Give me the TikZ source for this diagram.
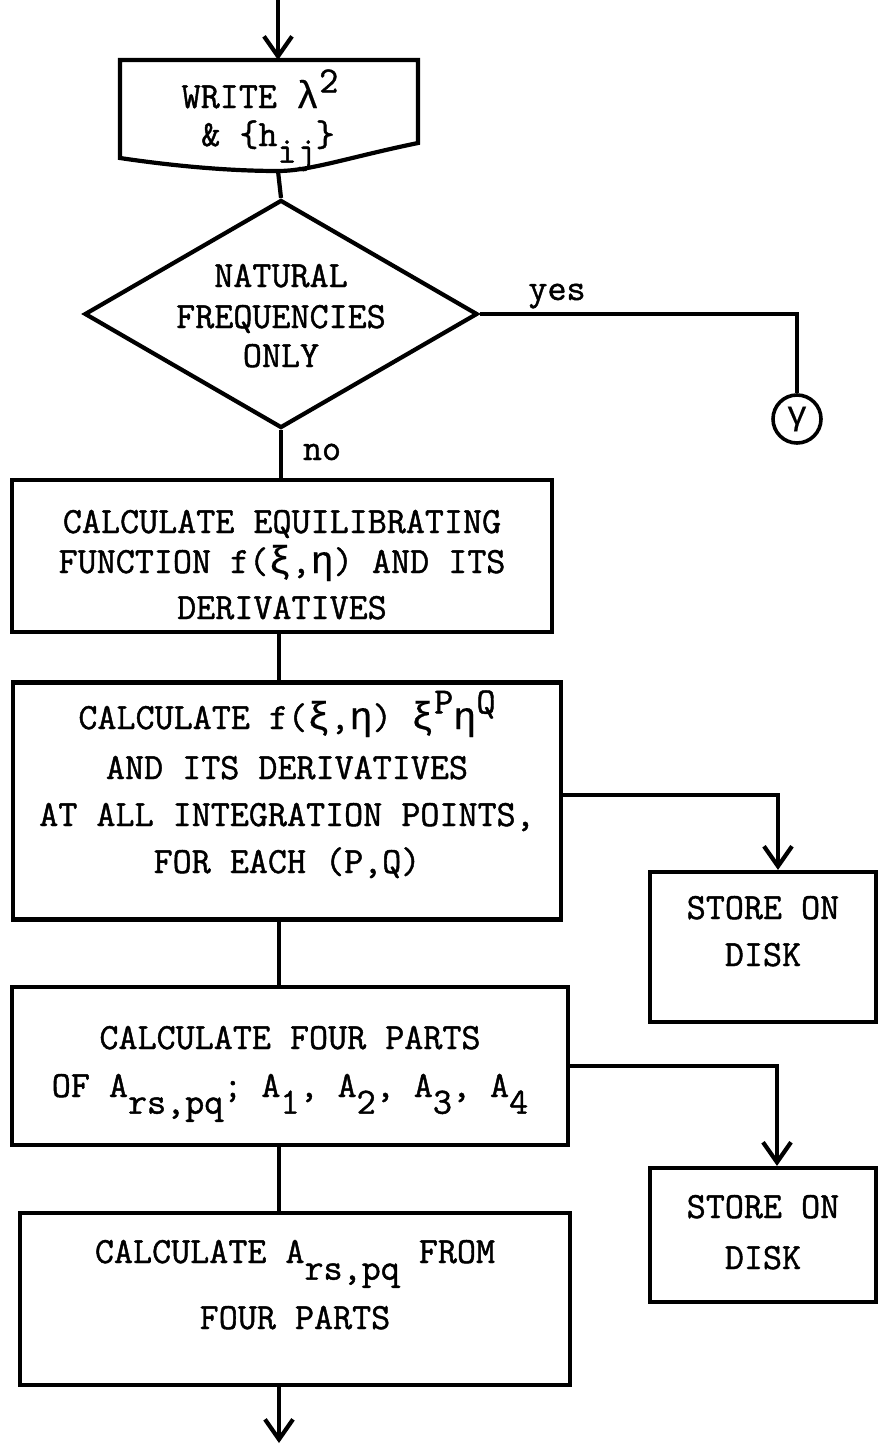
\documentclass[tikz,border=0pt]{standalone}
\usepackage{fontspec}
\setmonofont{Latin Modern Mono}[FakeBold=1.2]
\newfontfamily\grk{Liberation Mono}[FakeBold=0.4,Scale=1.05]
\usetikzlibrary{arrows.meta,shapes.geometric,calc}
\newcommand{\dn}[1]{\raisebox{-0.45em}{#1}}
\newcommand{\up}[1]{\raisebox{0.42em}{#1}}
\begin{document}
\begin{tikzpicture}[x=1pt,y=-1pt,
  txt/.style={font=\fontsize{37}{40}\selectfont\ttfamily, inner sep=0pt, anchor=base},
  box/.style={draw, line width=4.2pt, rectangle, inner sep=0pt},
  ln/.style={line width=4.2pt},
  arr/.style={line width=4.2pt, -{Straight Barb[length=20pt,width=28pt]}},
]
\useasboundingbox (0,0) rectangle (879,1445);
\coordinate (sp) at (279,0);

% --- output box: WRITE
\coordinate (top) at (278,0);
\coordinate (wt) at (278,60);
\coordinate (wb) at (278,171);
\draw[ln, line join=miter] (120,60) -- (418,60) -- (418,143)
   .. controls (350,157) and (310,171) .. (wb)
   .. controls (220,171) and (160,164) .. (120,158) -- cycle;
\node[txt] (w1) at (260,108) {WRITE {\grk λ}\up{2}};
\node[txt] (w2) at (268,146) {\& \{h\dn{ij}\}};

% --- decision
\node[diamond, draw, line width=4.2pt, minimum width=393pt, minimum height=228pt, inner sep=0pt] (dec) at (281,314) {};
\node[txt] (d1) at (281,287) {NATURAL};
\node[txt] (d2) at (281,328) {FREQUENCIES};
\node[txt] (d3) at (281,367) {ONLY};
\node[txt] (yes) at (557,300) {yes};
\node[txt] (no) at (322,460) {no};
\node[circle, draw, line width=3.6pt, minimum size=48pt, inner sep=0pt,
      font=\fontsize{32}{32}\selectfont\grk] (cir) at (797,419) {γ};

% --- process boxes
\node[box, minimum width=540pt, minimum height=152pt] (b2) at (282,556) {};
\node[txt] (t2a) at (282,533) {CALCULATE EQUILIBRATING};
\node[txt] (t2b) at (282,573) {FUNCTION f({\grk ξ},{\grk η}) AND ITS};
\node[txt] (t2c) at (282,619) {DERIVATIVES};

\node[box, minimum width=548pt, minimum height=237pt] (b3) at (287,801) {};
\node[txt] (t3a) at (287,729) {CALCULATE f({\grk ξ},{\grk η}) {\grk ξ}\up{P}{\grk η}\up{Q}};
\node[txt] (t3b) at (287,779) {AND ITS DERIVATIVES};
\node[txt] (t3c) at (287,826) {AT ALL INTEGRATION POINTS,};
\node[txt] (t3d) at (287,873) {FOR EACH (P,Q)};

\node[box, minimum width=226pt, minimum height=150pt] (b4) at (763,947) {};
\node[txt] (t4a) at (763,919) {STORE ON};
\node[txt] (t4b) at (763,966) {DISK};

\node[box, minimum width=556pt, minimum height=158pt] (b5) at (290,1066) {};
\node[txt] (t5a) at (290,1049) {CALCULATE FOUR PARTS};
\node[txt] (t5b) at (290,1097) {OF A\dn{rs,pq}; A\dn{1}, A\dn{2}, A\dn{3}, A\dn{4}};

\node[box, minimum width=226pt, minimum height=134pt] (b6) at (763,1235) {};
\node[txt] (t6a) at (763,1218) {STORE ON};
\node[txt] (t6b) at (763,1269) {DISK};

\node[box, minimum width=550pt, minimum height=172pt] (b7) at (295,1299) {};
\node[txt] (t7a) at (295,1263) {CALCULATE A\dn{rs,pq} FROM};
\node[txt] (t7b) at (295,1329) {FOUR PARTS};
\coordinate (end) at (279,1443);

% --- connectors
\draw[arr] (top) -- (wt);
\draw[ln] (wb) -- (dec.north);
\draw[ln] (dec.south) -- (b2.north -| dec.south);
\draw[ln] (dec.east) -| (cir.north);
\draw[ln] (b2.south -| sp) -- (b3.north -| sp);
\draw[ln] (b3.south -| sp) -- (b5.north -| sp);
\draw[ln] (b5.south -| sp) -- (b7.north -| sp);
\draw[arr] (b7.south -| sp) -- (end);
\draw[arr] ($(b3.east)+(0,-6)$) -| ($(b4.north)+(15,0)$);
\draw[arr] (b5.east) -| ($(b6.north)+(14,0)$);
\end{tikzpicture}
\end{document}
